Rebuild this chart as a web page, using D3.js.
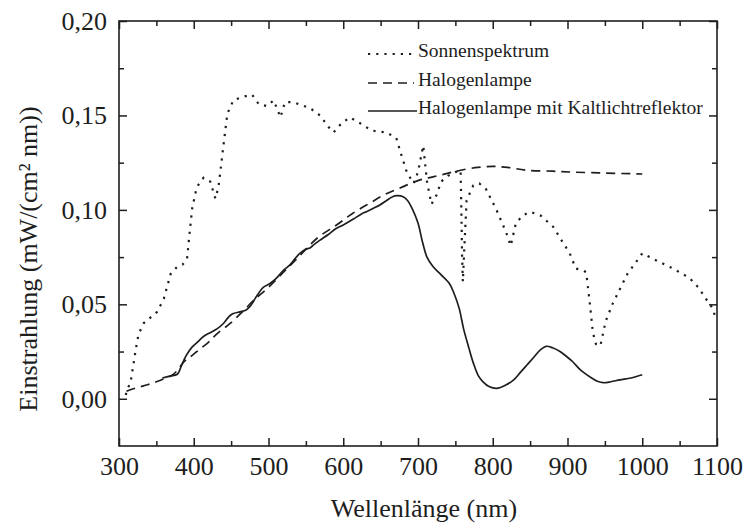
<!DOCTYPE html>
<html>
<head>
<meta charset="utf-8">
<script src="https://cdn.jsdelivr.net/npm/d3@7"></script>
<style>
  html, body { margin: 0; padding: 0; background: #fff; }
  svg { display: block; }
  text { font-family: "Liberation Serif", "DejaVu Serif", serif; fill: #1e1e1e; }
</style>
</head>
<body>
<svg id="chart" width="748" height="524"></svg>
<script>
// Irradiance spectra: wavelength (nm) and irradiance (mW/(cm² nm))
const sunWavelength = [309,316,322,326,333,342,351,360,369,378,385,391,395,398,404,413,422,429,433,437,440,445,453,467,478,487,498,507,516,522,533,555,569,580,587,598,609,622,638,658,671,677,685,694,700,707,712,718,725,731,740,750,757,758,759,760,762,765,774,782,791,805,818,824,831,840,850,864,881,895,903,911,920,925,930,934,938,944,951,960,970,980,991,1000,1020,1041,1063,1075,1085,1094,1098];
const sunValues = [0.002,0.010,0.025,0.034,0.040,0.043,0.046,0.053,0.066,0.070,0.071,0.074,0.090,0.101,0.112,0.117,0.115,0.106,0.112,0.125,0.135,0.151,0.158,0.160,0.161,0.156,0.155,0.158,0.149,0.157,0.157,0.154,0.150,0.144,0.141,0.146,0.149,0.146,0.142,0.141,0.138,0.130,0.120,0.114,0.120,0.134,0.115,0.103,0.108,0.115,0.118,0.120,0.121,0.100,0.075,0.062,0.080,0.105,0.113,0.114,0.111,0.100,0.088,0.081,0.093,0.097,0.099,0.097,0.091,0.082,0.077,0.069,0.068,0.067,0.050,0.035,0.029,0.028,0.041,0.050,0.058,0.066,0.072,0.077,0.073,0.069,0.064,0.059,0.053,0.048,0.043];

const halogenWavelength = [310,325,338,350,360,373,387,398,409,420,431,449,465,480,500,520,540,565,591,612,636,655,676,700,720,742,757,780,801,820,845,880,907,950,1000];
const halogenValues = [0.004,0.006,0.0074,0.009,0.0106,0.013,0.0196,0.023,0.0266,0.030,0.0344,0.040,0.046,0.052,0.059,0.067,0.075,0.085,0.092,0.098,0.1037,0.108,0.1116,0.1155,0.1175,0.1196,0.121,0.1225,0.123,0.1225,0.121,0.1205,0.120,0.1195,0.119];

const coldWavelength = [358,368,378,384,390,398,405,413,422,431,440,446,452,462,470,475,479,482,487,493,502,511,520,529,535,542,549,556,562,569,580,590,600,613,625,631,641,649,658,666,672,680,686,693,700,706,712,720,730,742,748,755,761,768,774,781,787,795,805,818,828,837,846,855,864,872,880,890,900,907,918,930,940,948,958,970,985,1000];
const coldValues = [0.011,0.012,0.013,0.018,0.023,0.0275,0.030,0.033,0.035,0.037,0.040,0.043,0.045,0.046,0.047,0.0487,0.051,0.053,0.056,0.059,0.061,0.064,0.068,0.071,0.074,0.077,0.079,0.080,0.082,0.084,0.087,0.090,0.092,0.095,0.098,0.099,0.101,0.1026,0.105,0.107,0.1075,0.107,0.105,0.100,0.093,0.083,0.075,0.070,0.066,0.061,0.056,0.048,0.037,0.027,0.019,0.012,0.009,0.0065,0.0055,0.0074,0.010,0.014,0.018,0.022,0.026,0.0278,0.027,0.025,0.022,0.0196,0.015,0.0116,0.0093,0.0085,0.009,0.010,0.011,0.0127];

const seriesNames = ["Sonnenspektrum", "Halogenlampe", "Halogenlampe mit Kaltlichtreflektor"];

const xMajorTicks = [300,400,500,600,700,800,900,1000,1100];
const xMinorTicks = [350,450,550,650,750,850,950,1050];
const yMajorTicks = [0.00,0.05,0.10,0.15,0.20];
const yMinorTicks = [0.025,0.075,0.125,0.175];

const xTitle = "Wellenlänge (nm)";
const yTitle = "Einstrahlung (mW/(cm² nm))";

// Layout
const frame = { left: 119, right: 717, top: 21, bottom: 446 };
const ink = "#1e1e1e";

const svg = d3.select("#chart");

const x = d3.scaleLinear().domain([300, 1100]).range([frame.left, frame.right]);
const y = d3.scaleLinear().domain([-0.025, 0.20]).range([frame.bottom, frame.top]);

const de = d3.formatLocale({ decimal: ",", thousands: ".", grouping: [3], currency: ["", " €"] });
const fmtY = de.format(".2f");

// Plot frame
svg.append("rect")
  .attr("x", frame.left).attr("y", frame.top)
  .attr("width", frame.right - frame.left).attr("height", frame.bottom - frame.top)
  .attr("fill", "none").attr("stroke", ink).attr("stroke-width", 1.6);

// Inward ticks on all four sides
function tickAxis(axisFn, scale, values, len, tx, ty, labels, fmt) {
  const a = axisFn(scale).tickValues(values).tickSizeInner(-len).tickSizeOuter(0);
  if (labels) a.tickFormat(fmt); else a.tickFormat("");
  const g = svg.append("g").attr("transform", `translate(${tx},${ty})`).call(a);
  g.select(".domain").remove();
  g.selectAll(".tick line").attr("stroke", ink).attr("stroke-width", 1.5);
  return g;
}

const gxb = tickAxis(d3.axisBottom, x, xMajorTicks, 8, 0, frame.bottom, true, d3.format("d"));
tickAxis(d3.axisBottom, x, xMinorTicks, 5, 0, frame.bottom, false);
tickAxis(d3.axisTop, x, xMajorTicks, 8, 0, frame.top, false);
tickAxis(d3.axisTop, x, xMinorTicks, 5, 0, frame.top, false);
const gyl = tickAxis(d3.axisLeft, y, yMajorTicks, 8, frame.left, 0, true, fmtY);
tickAxis(d3.axisLeft, y, yMinorTicks, 5, frame.left, 0, false);
tickAxis(d3.axisRight, y, yMajorTicks, 8, frame.right, 0, false);
tickAxis(d3.axisRight, y, yMinorTicks, 5, frame.right, 0, false);

gxb.selectAll(".tick text")
  .attr("y", 29).attr("dy", null)
  .style("font-size", "26px").attr("fill", ink)
  .attr("font-family", "Liberation Serif");
gyl.selectAll(".tick text")
  .attr("x", -12)
  .style("font-size", "26px").attr("fill", ink)
  .attr("font-family", "Liberation Serif");

// Axis titles
svg.append("text")
  .attr("x", 424).attr("y", 517)
  .attr("text-anchor", "middle")
  .style("font-size", "26px")
  .text(xTitle);

svg.append("text")
  .attr("transform", "translate(37,259) rotate(-90)")
  .attr("text-anchor", "middle")
  .style("font-size", "26px")
  .text(yTitle);

// Curves
const sunData = sunWavelength.map((w, i) => [w, sunValues[i]]);
const halogenData = halogenWavelength.map((w, i) => [w, halogenValues[i]]);
const coldData = coldWavelength.map((w, i) => [w, coldValues[i]]);

const lineLinear = d3.line().x(d => x(d[0])).y(d => y(d[1]));
const lineSmooth = d3.line().x(d => x(d[0])).y(d => y(d[1])).curve(d3.curveCatmullRom.alpha(0.5));

const styles = [
  { dash: "2.2 6", width: 2.2 },
  { dash: "9 6", width: 1.7 },
  { dash: null, width: 1.7 }
];

svg.append("path").datum(sunData)
  .attr("d", lineLinear)
  .attr("fill", "none").attr("stroke", ink)
  .attr("stroke-width", styles[0].width).attr("stroke-dasharray", styles[0].dash);

svg.append("path").datum(halogenData)
  .attr("d", lineSmooth)
  .attr("fill", "none").attr("stroke", ink)
  .attr("stroke-width", styles[1].width).attr("stroke-dasharray", styles[1].dash);

svg.append("path").datum(coldData)
  .attr("d", lineSmooth)
  .attr("fill", "none").attr("stroke", ink)
  .attr("stroke-width", styles[2].width);

// Legend
const legendBaselines = [57, 86, 114];
const legend = svg.append("g");
seriesNames.forEach((name, i) => {
  legend.append("line")
    .attr("x1", 368).attr("x2", i === 2 ? 417 : 414)
    .attr("y1", legendBaselines[i] - 3).attr("y2", legendBaselines[i] - 3)
    .attr("stroke", ink)
    .attr("stroke-width", styles[i].width)
    .attr("stroke-dasharray", styles[i].dash);
  legend.append("text")
    .attr("x", 418).attr("y", legendBaselines[i])
    .style("font-size", "19.5px")
    .text(name);
});
</script>
</body>
</html>
